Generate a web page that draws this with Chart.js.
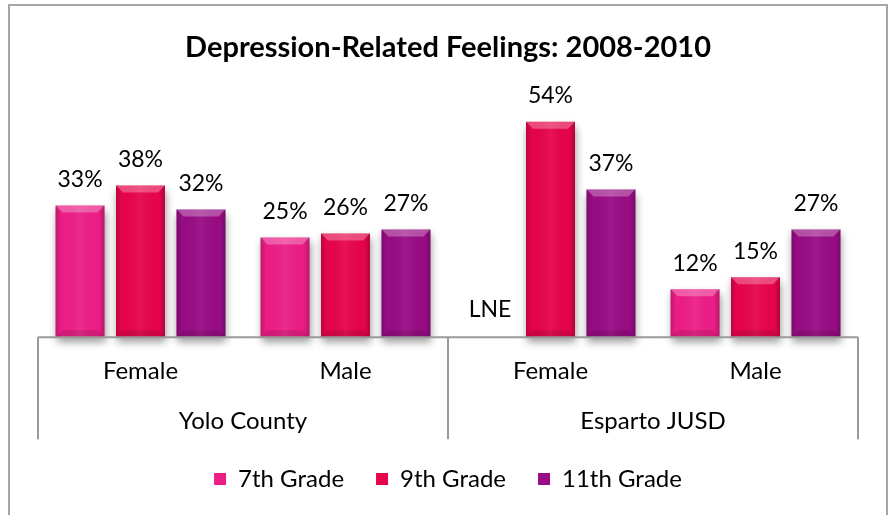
<!DOCTYPE html>
<html>
<head>
<meta charset="utf-8">
<script src="https://cdn.jsdelivr.net/npm/chart.js@4.4.1/dist/chart.umd.min.js"></script>
<style>
  html, body { margin: 0; padding: 0; background: #fff; }
  #wrap { position: relative; width: 892px; height: 515px; }
  #frame { position: absolute; left: 8px; top: 4px; width: 876px; height: 520px;
           border-left: 2px solid #a6a6a6; border-top: 2px solid #a6a6a6; border-right: 2px solid #a6a6a6; }
  canvas { position: absolute; left: 0; top: 0; }
</style>
</head>
<body>
<div id="wrap">
  <div id="frame"></div>
  <canvas id="c" width="892" height="515"></canvas>
</div>
<script>
const titleText = 'Depression-Related Feelings: 2008-2010';
const groups = ['Yolo County', 'Esparto JUSD'];
const categories = ['Female', 'Male', 'Female', 'Male'];
const seriesNames = ['7th Grade', '9th Grade', '11th Grade'];
const grade7 = [33, 25, null, 12];
const grade9 = [38, 26, 54, 15];
const grade11 = [32, 27, 37, 27];
const missingLabel = 'LNE';
const seriesColors = ['#ec1d86', '#e6044b', '#980c84'];

const FONT = "Lato, 'Open Sans', sans-serif";

const decoPlugin = {
  id: 'deco',
  beforeDatasetsDraw(chart) {
    const ctx = chart.ctx;
    ctx.save();
    ctx.shadowColor = 'rgba(0,0,0,0.4)';
    ctx.shadowBlur = 8;
    ctx.shadowOffsetX = 1;
    ctx.shadowOffsetY = 5;
  },
  afterDatasetsDraw(chart) {
    const ctx = chart.ctx;
    ctx.restore();
    const yScale = chart.scales.y;
    const zeroY = yScale.getPixelForValue(0);
    chart.data.datasets.forEach((ds, di) => {
      const meta = chart.getDatasetMeta(di);
      meta.data.forEach((bar, i) => {
        const v = ds.data[i];
        if (v === null || v === undefined) return;
        const p = bar.getProps(['x', 'y', 'base', 'width'], true);
        const l = p.x - p.width / 2, r = p.x + p.width / 2, t = p.y, b = p.base;
        const bev = 7;
        ctx.save();
        const g = ctx.createLinearGradient(l, 0, r, 0);
        g.addColorStop(0, 'rgba(0,0,0,0.18)');
        g.addColorStop(0.12, 'rgba(0,0,0,0)');
        g.addColorStop(0.5, 'rgba(255,255,255,0.06)');
        g.addColorStop(0.88, 'rgba(0,0,0,0)');
        g.addColorStop(1, 'rgba(0,0,0,0.22)');
        ctx.fillStyle = g;
        ctx.fillRect(l, t, r - l, b - t);
        ctx.beginPath();
        ctx.moveTo(l, t); ctx.lineTo(r, t); ctx.lineTo(r - bev, t + bev); ctx.lineTo(l + bev, t + bev); ctx.closePath();
        ctx.fillStyle = 'rgba(255,255,255,0.28)';
        ctx.fill();
        ctx.beginPath();
        ctx.moveTo(l, b); ctx.lineTo(r, b); ctx.lineTo(r - bev, b - bev); ctx.lineTo(l + bev, b - bev); ctx.closePath();
        ctx.fillStyle = 'rgba(0,0,0,0.10)';
        ctx.fill();
        ctx.restore();
      });
    });
    ctx.save();
    ctx.fillStyle = '#000';
    ctx.font = "23px " + FONT;
    ctx.textAlign = 'center';
    ctx.textBaseline = 'middle';
    chart.data.datasets.forEach((ds, di) => {
      const meta = chart.getDatasetMeta(di);
      meta.data.forEach((bar, i) => {
        const v = ds.data[i];
        const x = bar.x;
        if (v === null || v === undefined) {
          ctx.fillText(missingLabel, x, zeroY - 28);
        } else {
          ctx.fillText(v + '%', x, yScale.getPixelForValue(v) - 26);
        }
      });
    });
    ctx.restore();
  },
  afterDraw(chart) {
    const ctx = chart.ctx;
    const xs = chart.scales.x, x2 = chart.scales.x2;
    const top = chart.chartArea.bottom;
    const bottom = x2.top + 52;
    const mid = (xs.getPixelForValue(1) + xs.getPixelForValue(2)) / 2;
    ctx.save();
    ctx.strokeStyle = '#9a9a9a';
    ctx.lineWidth = 2;
    [xs.left, mid, xs.right].forEach(px => {
      ctx.beginPath();
      ctx.moveTo(Math.round(px), top);
      ctx.lineTo(Math.round(px), bottom);
      ctx.stroke();
    });
    ctx.beginPath();
    ctx.moveTo(xs.left, top);
    ctx.lineTo(xs.right, top);
    ctx.stroke();
    ctx.restore();
  }
};

const datasets = [grade7, grade9, grade11].map((d, i) => ({
  label: seriesNames[i],
  data: d,
  backgroundColor: seriesColors[i],
  borderWidth: 0,
  clip: false,
  categoryPercentage: 0.885,
  barPercentage: 0.81,
  xAxisID: 'x',
  yAxisID: 'y'
}));

new Chart(document.getElementById('c'), {
  type: 'bar',
  data: { labels: categories, datasets },
  plugins: [decoPlugin],
  options: {
    responsive: false,
    animation: false,
    devicePixelRatio: 1,
    layout: { padding: { left: 38, right: 34, top: 0, bottom: 14 } },
    scales: {
      y: { display: false, min: 0, max: 60 },
      x: {
        position: 'bottom',
        grid: { display: false },
        border: { display: false },
        ticks: { color: '#000', font: { family: FONT, size: 24 }, padding: 12, maxRotation: 0 },
        afterFit(scale) { scale.height = 50; }
      },
      x2: {
        type: 'category',
        labels: groups,
        position: 'bottom',
        grid: { display: false },
        border: { display: false },
        ticks: { color: '#000', font: { family: FONT, size: 24 }, padding: 12, maxRotation: 0 },
        afterFit(scale) { scale.height -= 13; }
      }
    },
    plugins: {
      title: {
        display: true,
        text: titleText,
        color: '#000',
        font: { family: FONT, size: 29, weight: 'bold' },
        padding: { top: 30, bottom: 33 }
      },
      legend: {
        position: 'bottom',
        labels: {
          color: '#000',
          font: { family: FONT, size: 24 },
          boxWidth: 12,
          boxHeight: 12,
          padding: 32,
          generateLabels(chart) {
            return seriesNames.map((n, i) => ({
              text: n, fillStyle: seriesColors[i], strokeStyle: seriesColors[i], lineWidth: 0,
              datasetIndex: i, hidden: false, fontColor: '#000'
            }));
          }
        }
      },
      tooltip: { enabled: false }
    }
  }
});
</script>
</body>
</html>
